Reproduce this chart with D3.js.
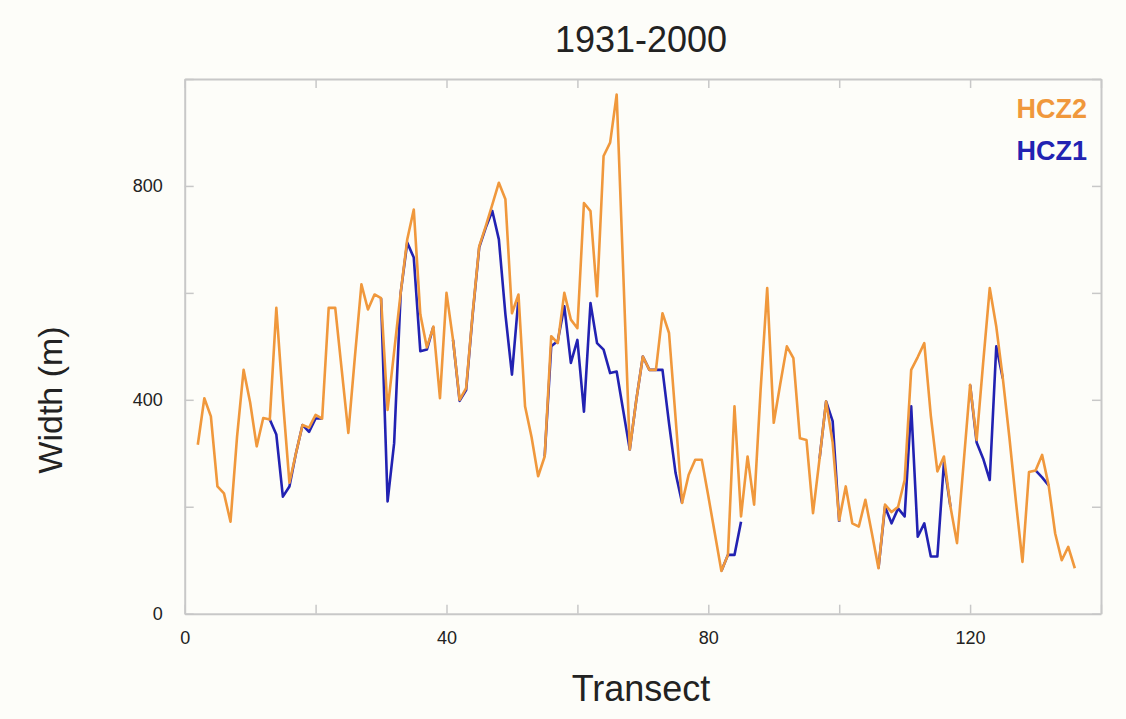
<!DOCTYPE html>
<html>
<head>
<meta charset="utf-8">
<script src="https://cdn.jsdelivr.net/npm/d3@7"></script>
<style>
  html, body { margin: 0; padding: 0; background: #fdfdf9; }
  svg { display: block; }
  text { font-family: "Liberation Sans", Arial, sans-serif; }
</style>
</head>
<body>
<svg id="chart" width="1126" height="719"></svg>
<script>
// ---- data ----
const transects = d3.range(2, 137);
const hcz2 = [316,403,369,238,225,172,331,456,395,313,366,363,572,400,245,300,353,348,372,365,
  572,572,455,338,480,616,569,597,590,381,490,600,700,756,560,498,537,403,600,512,
  400,422,562,687,725,765,806,775,562,597,388,330,257,294,519,506,600,550,534,768,
  753,594,856,881,971,640,307,400,481,456,456,562,525,366,207,260,288,288,220,150,
  80,110,388,182,294,204,420,609,357,430,500,478,328,325,188,290,397,320,175,238,
  169,163,213,150,85,204,190,200,250,456,480,506,370,266,294,200,132,280,428,325,
  470,609,537,440,330,210,97,265,268,297,240,150,100,125,85];
const N = null;
const hcz1 = [N,N,N,N,N,N,N,N,N,N,N,363,335,219,238,300,353,340,365,365,
  N,N,N,N,N,N,N,N,590,210,319,600,694,666,491,494,537,N,N,512,
  398,418,560,685,722,753,700,560,447,590,N,N,N,294,500,510,575,469,512,378,
  581,506,494,450,453,380,307,400,481,456,456,456,356,263,207,N,N,N,N,N,
  80,110,110,172,N,N,N,N,N,N,N,N,N,N,N,290,397,360,172,N,
  N,N,N,N,85,200,169,197,182,388,144,169,107,107,282,200,N,N,428,320,
  290,250,500,440,N,N,N,N,268,255,240,N,N,N,N];
const xTicks = [0,20,40,60,80,100,120,140];
const xLabels = [0,40,80,120];
const yTicks = [0,200,400,600,800,1000];
const yLabels = [0,400,800];
const seriesNames = ["HCZ2","HCZ1"];
const seriesColors = ["#f0983c","#2222b2"];

// ---- layout ----
const svg = d3.select("#chart");
const L = 184.7, R = 1101, T = 79, B = 613.7;
const x = d3.scaleLinear().domain([0,140]).range([L,R]);
const y = d3.scaleLinear().domain([0,1000]).range([B,T]);
const frameColor = "#c8c8c8";

function styleAxis(g){
  g.selectAll(".domain").attr("stroke", frameColor).attr("stroke-width", 2);
  g.selectAll(".tick line").attr("stroke", frameColor).attr("stroke-width", 1.5);
  g.selectAll(".tick text").attr("fill", "#222").style("font-size","18px")
    .style("font-family",'"Liberation Sans", Arial, sans-serif');
}

// bottom axis
svg.append("g").attr("transform",`translate(0,${B})`)
  .call(d3.axisBottom(x).tickValues(xTicks).tickSizeInner(-9).tickSizeOuter(0).tickPadding(18)
    .tickFormat(d => xLabels.includes(d) ? d : ""))
  .call(styleAxis);
// top axis
svg.append("g").attr("transform",`translate(0,${T})`)
  .call(d3.axisTop(x).tickValues(xTicks).tickSizeInner(-9).tickSizeOuter(0).tickFormat(""))
  .call(styleAxis);
// left axis
svg.append("g").attr("transform",`translate(${L},0)`)
  .call(d3.axisLeft(y).tickValues(yTicks).tickSizeInner(-9).tickSizeOuter(0).tickPadding(22)
    .tickFormat(d => yLabels.includes(d) ? d : ""))
  .call(styleAxis);
// right axis
svg.append("g").attr("transform",`translate(${R},0)`)
  .call(d3.axisRight(y).tickValues(yTicks).tickSizeInner(-9).tickSizeOuter(0).tickFormat(""))
  .call(styleAxis);

// lines: HCZ1 beneath, HCZ2 on top
const line = d3.line()
  .defined(d => d[1] != null)
  .x(d => x(d[0])).y(d => y(d[1]));

const d1 = transects.map((t,i) => [t, hcz1[i]]);
const d2 = transects.map((t,i) => [t, hcz2[i]]);

svg.append("path").datum(d1).attr("d", line)
  .attr("fill","none").attr("stroke", seriesColors[1]).attr("stroke-width", 2.6)
  .attr("stroke-linejoin","round");
svg.append("path").datum(d2).attr("d", line)
  .attr("fill","none").attr("stroke", seriesColors[0]).attr("stroke-width", 2.6)
  .attr("stroke-linejoin","round");

// legend
svg.append("text").attr("x", 1087).attr("y", 118).attr("text-anchor","end")
  .attr("fill", seriesColors[0]).style("font-size","27px").style("font-weight","bold").text(seriesNames[0]);
svg.append("text").attr("x", 1087).attr("y", 160).attr("text-anchor","end")
  .attr("fill", seriesColors[1]).style("font-size","27px").style("font-weight","bold").text(seriesNames[1]);

// title and axis labels
svg.append("text").attr("x", 641).attr("y", 52).attr("text-anchor","middle")
  .attr("fill","#222").style("font-size","36px").text("1931-2000");
svg.append("text").attr("x", 641).attr("y", 701).attr("text-anchor","middle")
  .attr("fill","#222").style("font-size","36px").text("Transect");
svg.append("text").attr("transform","translate(62,400) rotate(-90)").attr("text-anchor","middle")
  .attr("fill","#222").style("font-size","34px").text("Width (m)");
</script>
</body>
</html>
